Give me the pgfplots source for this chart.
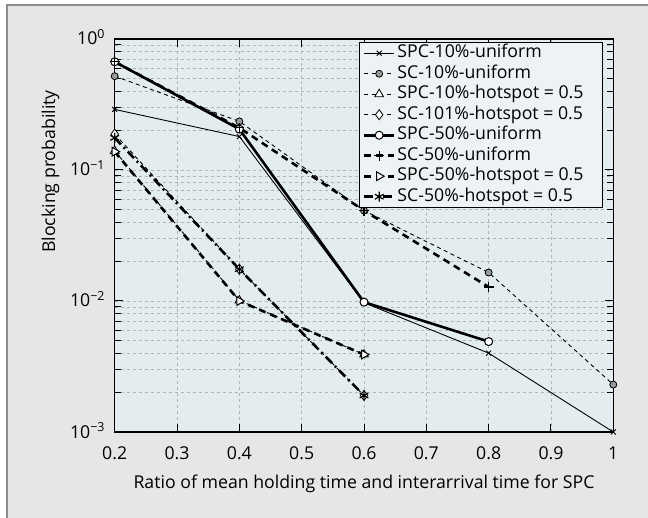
\documentclass[border=0pt]{standalone}
\usepackage{pgfplots}
\pgfplotsset{compat=1.18}
\usepackage{fontspec}
\setmainfont{Open Sans}
\definecolor{bgpanel}{HTML}{E6E6E6}
\definecolor{plotbg}{HTML}{E3EDF0}
\definecolor{legbg}{HTML}{EDF2F4}
\definecolor{gridc}{HTML}{B4B4B4}
\definecolor{framec}{HTML}{8C8C8C}
\definecolor{markgray}{HTML}{9A9A9A}
\newcommand{\myfont}{\fontsize{17.7bp}{20bp}\selectfont}
\begin{document}
\myfont
\begin{tikzpicture}[x=1bp,y=1bp]
\useasboundingbox (0,0) rectangle (648,518);
\fill[white] (0,0) rectangle (648,518);
\fill[bgpanel] (7,0) rectangle (648,513);
\draw[framec, line width=1.6bp] (7,0) -- (7,513) -- (648,513);
\begin{axis}[
  at={(114.7bp,86bp)}, anchor=south west,
  scale only axis, width=498.6bp, height=393bp,
  xmin=0.2, xmax=1, ymin=1e-3, ymax=1,
  ymode=log,
  axis background/.style={fill=plotbg},
  xtick={0.2,0.3,0.4,0.5,0.6,0.7,0.8,0.9,1},
  xticklabels={0.2,0.3,0.4,0.5,0.6,0.7,0.8,0.9,1},
  ytick={1e-3,1e-2,1e-1,1},
  yticklabels={10\textsuperscript{−3},10\textsuperscript{−2},10\textsuperscript{−1},10\textsuperscript{0}},
  minor ytick={2e-3,3e-3,4e-3,5e-3,6e-3,7e-3,8e-3,9e-3,2e-2,3e-2,4e-2,5e-2,6e-2,7e-2,8e-2,9e-2,0.2,0.3,0.4,0.5,0.6,0.7,0.8,0.9},
  xmajorgrids, ymajorgrids, yminorgrids,
  major grid style={gridc, dash pattern=on 3bp off 3bp, line width=0.8bp},
  minor grid style={gridc, dash pattern=on 3bp off 3bp, line width=0.8bp},
  tick align=inside, xtick pos=both, ytick pos=both,
  major tick length=8bp, minor tick length=6bp,
  tick style={black, line width=1bp},
  axis line style={black, line width=1.5bp},
  xticklabel style={anchor=base, inner sep=0pt, yshift=-27bp, font=\myfont},
  yticklabel style={anchor=base east, inner sep=0pt, xshift=-9.5bp, yshift=-6bp, font=\myfont},
  xlabel={Ratio of mean holding time and interarrival time for SPC},
  ylabel={Blocking probability},
  xlabel style={at={(axis description cs:0.5,-0.1425)}, anchor=base, inner sep=0pt, font=\myfont},
  ylabel style={at={(axis description cs:-0.1197,0.4555)}, anchor=base west, inner sep=0pt, font=\myfont},
  legend style={at={(axis description cs:0.9793,0.9924)}, anchor=north east, fill=legbg, draw=black, line width=1bp,
    inner xsep=3bp, inner ysep=0.5bp, row sep=0bp,
    nodes={inner sep=2bp, text height=12.8bp, text depth=3.7bp, anchor=west},
    font=\myfont},
  legend cell align=left,
  legend image code/.code={\draw[mark repeat=2, mark phase=2, #1] plot coordinates {(0bp,0bp) (15bp,0bp) (30bp,0bp)};},
]
\addplot[black, line width=0.9bp, mark=x, mark size=3.5bp, mark options={solid}]
  coordinates {(0.2,0.29) (0.4,0.18) (0.6,0.0097) (0.8,0.004) (1,0.001)};
\addlegendentry{\makebox[200bp][l]{SPC-10\%-uniform}}
\addplot[black, line width=0.9bp, dash pattern=on 4bp off 3.5bp, mark=*, mark size=3.5bp, mark options={solid, fill=markgray, draw=black, line width=0.8bp}]
  coordinates {(0.2,0.52) (0.4,0.235) (0.6,0.049) (0.8,0.0165) (1,0.0023)};
\addlegendentry{SC-10\%-uniform}
\addplot[black, line width=0.9bp, dash pattern=on 4bp off 3.5bp, mark=triangle*, mark size=5bp, mark options={solid, fill=white, draw=black, line width=0.8bp}]
  coordinates {(0.2,0.14) (0.4,0.0101) (0.6,0.0039)};
\addlegendentry{SPC-10\%-hotspot = 0.5}
\addplot[black, line width=0.9bp, dash pattern=on 4bp off 3.5bp, mark=diamond*, mark size=5bp, mark options={solid, fill=white, draw=black, line width=0.8bp}]
  coordinates {(0.2,0.188) (0.4,0.0175) (0.6,0.0019)};
\addlegendentry{SC-101\%-hotspot = 0.5}
\addplot[black, line width=2.6bp, mark=*, mark size=4bp, mark options={solid, fill=white, draw=black, line width=1bp}]
  coordinates {(0.2,0.67) (0.4,0.205) (0.6,0.0098) (0.8,0.0049)};
\addlegendentry{SPC-50\%-uniform}
\addplot[black, line width=2.6bp, dash pattern=on 7bp off 5bp, mark=+, mark size=5bp, mark options={solid, line width=1.2bp}]
  coordinates {(0.2,0.67) (0.4,0.21) (0.6,0.049) (0.8,0.0128)};
\addlegendentry{SC-50\%-uniform}
\addplot[black, line width=2.6bp, dash pattern=on 7bp off 5bp, mark=triangle*, mark size=5bp, mark options={solid, rotate=-90, fill=white, draw=black, line width=1bp}]
  coordinates {(0.2,0.138) (0.4,0.01) (0.6,0.0039)};
\addlegendentry{SPC-50\%-hotspot = 0.5}
\addplot[black, line width=2.6bp, dash pattern=on 9bp off 4bp on 2bp off 4bp, mark=asterisk, mark size=5bp, mark options={solid, line width=1.2bp}]
  coordinates {(0.2,0.176) (0.4,0.0175) (0.6,0.0019)};
\addlegendentry{SC-50\%-hotspot = 0.5}
\end{axis}
\end{tikzpicture}
\end{document}
